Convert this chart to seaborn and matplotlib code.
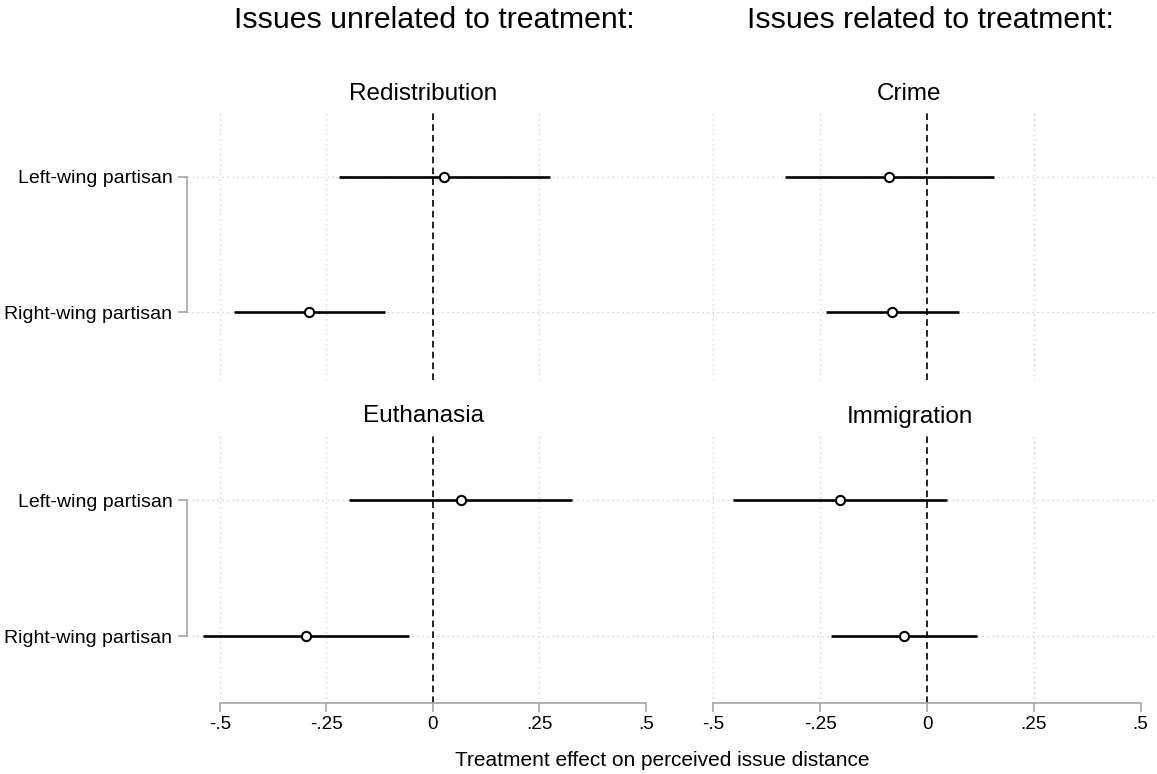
import matplotlib
matplotlib.use("Agg")
import matplotlib.pyplot as plt
import pandas as pd
import seaborn as sns

# Estimates with 95% confidence intervals, by issue and partisan group
issues = ["Redistribution", "Crime", "Euthanasia", "Immigration"]
groups = ["Left-wing partisan", "Right-wing partisan"]
estimate = {
    "Redistribution": [0.027, -0.291],
    "Crime": [-0.088, -0.082],
    "Euthanasia": [0.066, -0.297],
    "Immigration": [-0.203, -0.053],
}
ci_low = {
    "Redistribution": [-0.220, -0.468],
    "Crime": [-0.332, -0.237],
    "Euthanasia": [-0.196, -0.540],
    "Immigration": [-0.455, -0.224],
}
ci_high = {
    "Redistribution": [0.275, -0.113],
    "Crime": [0.158, 0.075],
    "Euthanasia": [0.327, -0.056],
    "Immigration": [0.047, 0.118],
}
xticks = [-0.5, -0.25, 0, 0.25, 0.5]
xtick_labels = ["-.5", "-.25", "0", ".25", ".5"]
grid_x = [-0.5, -0.25, 0.25]
column_titles = ["Issues unrelated to treatment:", "Issues related to treatment:"]
x_label = "Treatment effect on perceived issue distance"

rows = []
for issue in issues:
    for i, g in enumerate(groups):
        rows.append({"issue": issue, "group": g, "pos": i,
                     "est": estimate[issue][i],
                     "lo": ci_low[issue][i], "hi": ci_high[issue][i]})
df = pd.DataFrame(rows)

sns.set_theme(style="white")
plt.rcParams["font.family"] = ["Liberation Sans", "DejaVu Sans"]
plt.rcParams["text.color"] = "black"
plt.rcParams["axes.titlecolor"] = "black"

W, H = 1157, 774
fig = plt.figure(figsize=(W / 100, H / 100), dpi=100)
fig.patch.set_facecolor("white")


def px_axes(left, top, right, bottom):
    return fig.add_axes([left / W, 1 - bottom / H, (right - left) / W, (bottom - top) / H])


# (left, top, right, bottom) in pixels, plus the x limits for each column
panel_boxes = {
    "Redistribution": (187, 112, 660, 380),
    "Crime": (662, 112, 1157, 380),
    "Euthanasia": (187, 435, 660, 703),
    "Immigration": (662, 435, 1157, 703),
}
col_xlim = [(-0.5775, 0.533), (-0.6206, 0.5386)]
row_ylim = [(1.50, -0.48), (1.49, -0.48)]

grey = "#a6a6a6"
grid_c = "#c8c8c8"

for k, issue in enumerate(issues):
    col, row = k % 2, k // 2
    ax = px_axes(*panel_boxes[issue])
    sub = df[df["issue"] == issue]

    ax.set_xlim(*col_xlim[col])
    ax.set_ylim(*row_ylim[row])

    for gx in grid_x:
        ax.axvline(gx, color=grid_c, lw=0.9, ls=(0, (1, 3)), zorder=1)
    for p in sub["pos"]:
        ax.axhline(p, color=grid_c, lw=0.9, ls=(0, (1, 3)), zorder=1)
    ax.axvline(0, color="black", lw=1.2, ls=(0, (4, 2.5)), zorder=2)

    ax.hlines(sub["pos"], sub["lo"], sub["hi"], color="black", lw=1.9, zorder=3)
    sns.scatterplot(data=sub, x="est", y="pos", ax=ax, s=44, marker="o",
                    facecolor="white", edgecolor="black", linewidth=1.5,
                    zorder=4, legend=False)

    ax.set_title(issue, fontsize=17.5, pad=9, color="black")
    ax.set_xlabel("")
    ax.set_ylabel("")

    for s in ["top", "right"]:
        ax.spines[s].set_visible(False)

    if col == 0:
        ax.spines["left"].set_visible(True)
        ax.spines["left"].set_color(grey)
        ax.spines["left"].set_linewidth(1.2)
        ax.spines["left"].set_bounds(0, 1)
        ax.set_yticks([0, 1])
        ax.set_yticklabels(groups, fontsize=14)
        ax.tick_params(axis="y", left=True, length=6.5, width=1.2, color=grey,
                       pad=4, labelcolor="black")
    else:
        ax.spines["left"].set_visible(False)
        ax.set_yticks([])

    if row == 1:
        ax.spines["bottom"].set_visible(True)
        ax.spines["bottom"].set_color(grey)
        ax.spines["bottom"].set_linewidth(1.2)
        ax.spines["bottom"].set_bounds(-0.5, 0.5)
        ax.set_xticks(xticks)
        ax.set_xticklabels(xtick_labels, fontsize=13.6)
        ax.tick_params(axis="x", bottom=True, length=6.5, width=1.2, color=grey,
                       pad=3, labelcolor="black")
    else:
        ax.spines["bottom"].set_visible(False)
        ax.set_xticks([])

    ax.grid(False)
    ax.set_facecolor("white")

fig.text(434 / W, 1 - 20 / H, column_titles[0], ha="center", va="center", fontsize=21.8)
fig.text(930 / W, 1 - 20 / H, column_titles[1], ha="center", va="center", fontsize=21.8)
fig.text(662 / W, 1 - 760 / H, x_label, ha="center", va="center", fontsize=15)

fig.savefig("out.png", dpi=100, facecolor="white")
